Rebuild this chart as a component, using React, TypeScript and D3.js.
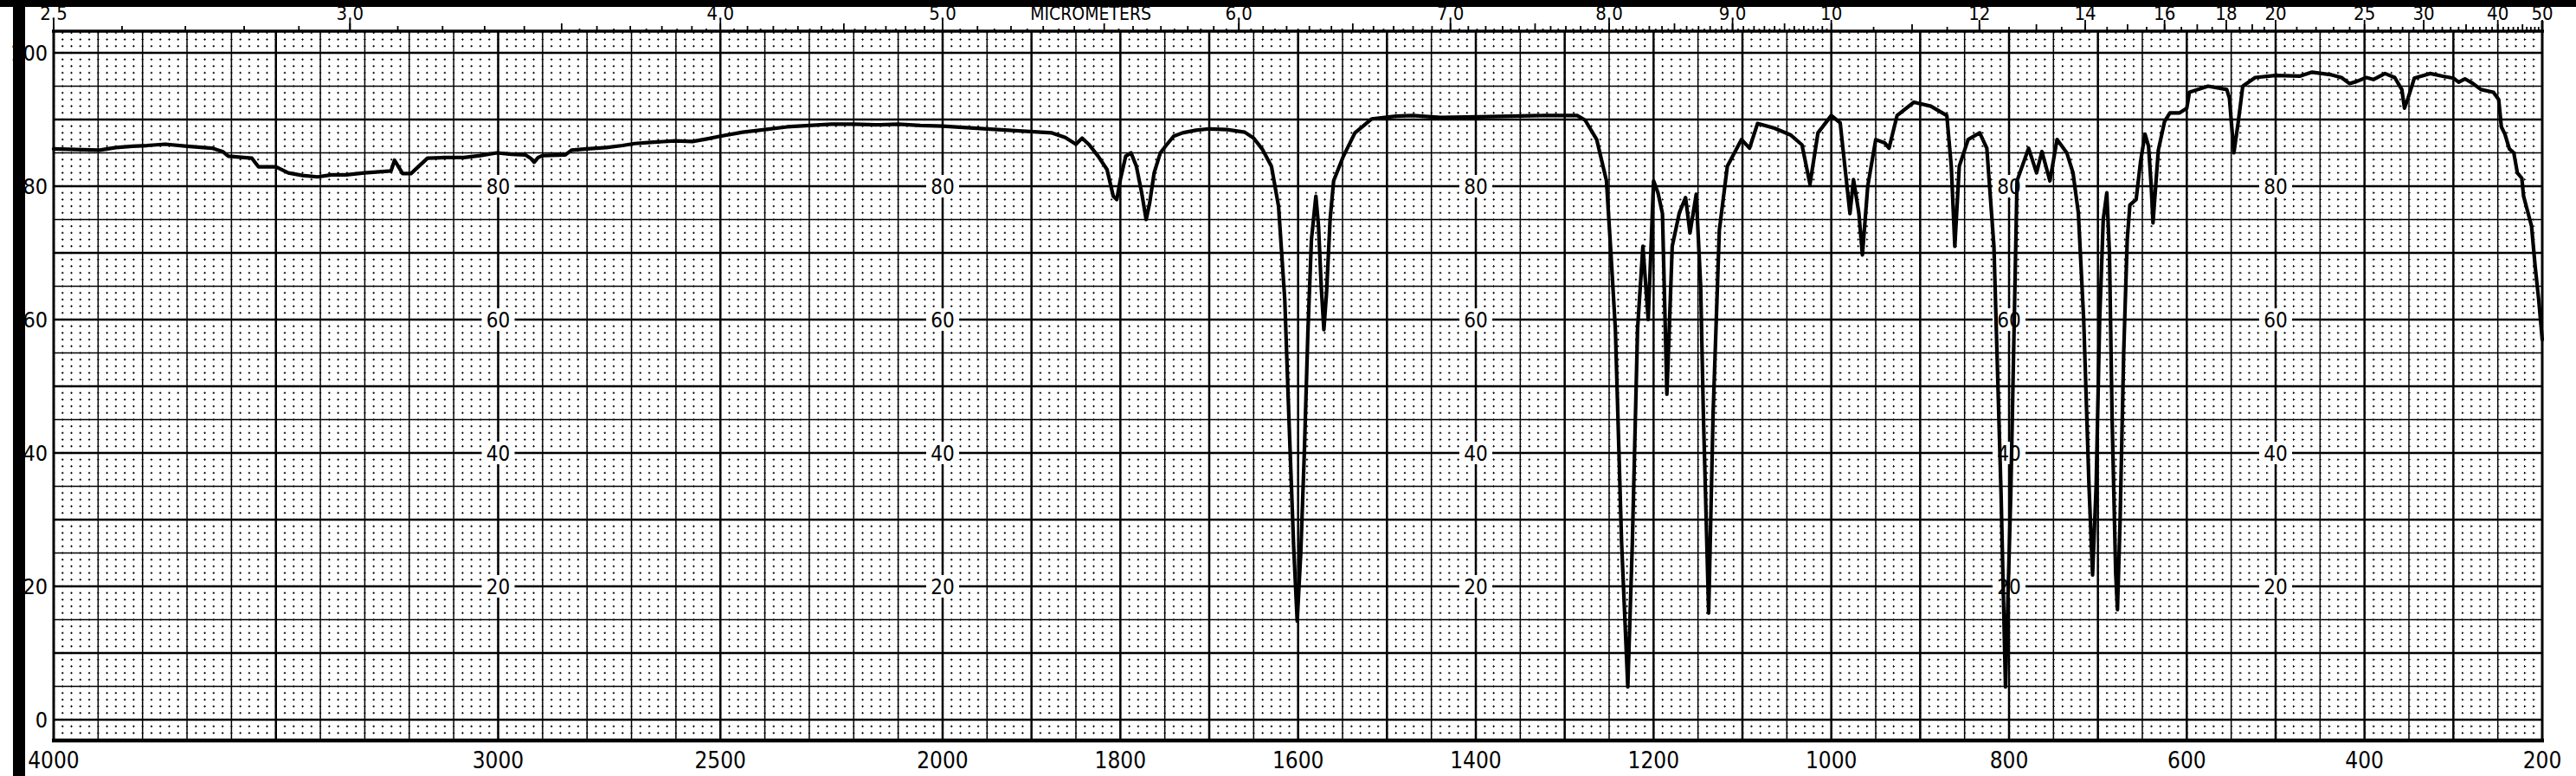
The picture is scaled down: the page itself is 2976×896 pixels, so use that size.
import React from "react";
import * as d3 from "d3";

// ---- data (wavenumber cm-1, % transmittance) ----
const wavenumbers = [
  4000, 3950, 3897, 3860, 3823, 3790, 3749, 3700, 3644, 3620, 3607, 3554, 3539, 3500, 3472, 3440, 3406, 3375, 3342, 3301,
  3241, 3233, 3215, 3196, 3159, 3120, 3077, 3040, 3003, 2970, 2939, 2927, 2919, 2910, 2900, 2849, 2835, 2800, 2757, 2720,
  2693, 2650, 2602, 2563, 2530, 2500, 2450, 2400, 2350, 2300, 2250, 2200, 2150, 2100, 2050, 2000, 1950, 1914, 1877, 1862,
  1850, 1843, 1835, 1825, 1815, 1808, 1804, 1800, 1794, 1788, 1782, 1776, 1771, 1767, 1762, 1755, 1748, 1740, 1730, 1715,
  1700, 1680, 1660, 1650, 1640, 1630, 1622, 1615, 1610, 1605, 1601, 1597, 1593, 1589, 1585, 1580, 1577, 1574, 1571, 1568,
  1564, 1560, 1549, 1536, 1517, 1490, 1471, 1440, 1397, 1360, 1323, 1286, 1277, 1264, 1253, 1248, 1243, 1236, 1229, 1224,
  1218, 1212, 1206, 1200, 1195, 1190, 1185, 1179, 1171, 1164, 1159, 1152, 1147, 1144, 1138, 1133, 1126, 1117, 1101, 1092,
  1083, 1064, 1046, 1033, 1024, 1015, 1000, 990, 983, 979, 975, 969, 965, 959, 950, 940, 935, 926, 907, 888,
  870, 865, 861, 856, 846, 833, 825, 817, 809, 804, 798, 791, 778, 769, 763, 754, 746, 735, 728, 722,
  716, 710, 706, 702, 698, 694, 690, 687, 684, 680, 678, 675, 671, 667, 664, 657, 652, 647, 643, 640,
  638, 635, 632, 625, 619, 608, 600, 597, 576, 555, 552, 547, 542, 537, 523, 500, 473, 459, 437, 426,
  417, 409, 398, 390, 377, 366, 358, 355, 351, 344, 326, 312, 300, 294, 287, 278, 269, 255, 249, 246,
  242, 237, 232, 228, 223, 221, 216, 212, 208, 204, 200,
];
const transmittance = [
  85.6, 85.5, 85.4, 85.8, 86.0, 86.1, 86.3, 86.0, 85.7, 85.2, 84.5, 84.2, 82.9, 82.9, 82.0, 81.6, 81.4, 81.7, 81.7, 82.0,
  82.3, 83.9, 81.9, 81.9, 84.2, 84.3, 84.3, 84.6, 85.0, 84.8, 84.7, 84.2, 83.6, 84.3, 84.6, 84.7, 85.4, 85.6, 85.8, 86.1,
  86.4, 86.6, 86.8, 86.7, 87.1, 87.5, 88.1, 88.5, 88.9, 89.1, 89.3, 89.3, 89.2, 89.3, 89.1, 89.0, 88.6, 88.3, 88.0, 87.3,
  86.3, 87.2, 86.2, 84.5, 82.5, 78.5, 78.0, 81.0, 84.5, 85.0, 83.0, 79.0, 75.0, 77.5, 82.0, 85.0, 86.2, 87.5, 88.0, 88.4,
  88.6, 88.5, 88.1, 87.2, 85.5, 83.0, 77.0, 63.0, 44.0, 26.0, 14.8, 25.0, 40.0, 58.0, 72.0, 78.5, 74.0, 65.0, 58.5, 64.0,
  75.0, 80.8, 84.5, 88.0, 90.1, 90.5, 90.6, 90.3, 90.4, 90.5, 90.6, 90.6, 89.9, 87.0, 80.8, 70.0, 58.6, 26.6, 4.9, 26.0,
  58.6, 71.0, 60.0, 80.8, 79.0, 75.9, 48.8, 71.0, 76.0, 78.3, 73.0, 78.8, 65.0, 46.0, 16.0, 46.0, 73.4, 83.0, 87.0, 85.7,
  89.4, 88.7, 87.7, 86.2, 80.3, 88.0, 90.6, 89.5, 80.8, 75.9, 81.0, 76.0, 69.7, 80.0, 87.0, 86.5, 85.7, 90.6, 92.6, 92.0,
  90.6, 83.0, 71.0, 83.0, 87.0, 88.0, 85.7, 71.0, 34.0, 4.9, 34.0, 80.8, 85.7, 82.0, 85.2, 80.8, 87.0, 85.0, 82.0, 76.0,
  60.0, 35.0, 21.7, 35.0, 60.0, 75.0, 79.0, 70.0, 45.0, 22.0, 16.5, 30.0, 55.0, 72.0, 77.2, 78.0, 83.7, 87.8, 86.0, 80.0,
  74.5, 80.0, 85.4, 89.7, 91.0, 91.0, 91.7, 94.1, 95.0, 94.5, 93.2, 85.0, 89.7, 95.0, 96.3, 96.6, 96.5, 97.1, 96.7, 96.3,
  95.4, 95.7, 96.3, 96.0, 96.9, 96.3, 94.5, 91.7, 93.2, 96.2, 96.9, 96.5, 96.2, 95.6, 96.1, 95.4, 94.5, 94.1, 93.0, 88.9,
  87.8, 85.6, 85.0, 82.0, 81.2, 78.5, 76.0, 74.0, 68.0, 63.0, 57.0,
];

// ---- tick labels ----
const wavenumberTickLabels = [4000, 3000, 2500, 2000, 1800, 1600, 1400, 1200, 1000, 800, 600, 400, 200];
const micrometerTickLabels = ["2.5", "3.0", "4.0", "5.0", "6.0", "7.0", "8.0", "9.0", "10", "12", "14", "16", "18", "20", "25", "30", "40", "50"];
const percentTickLabels = [0, 20, 40, 60, 80, 100];
const innerLabelWavenumbers = [3000, 2000, 1400, 800, 500];
const innerLabelPercents = [20, 40, 60, 80];

const W = 2976;
const H = 896;
const LEFT = 62;
const RIGHT = 2937;
const TOP = 36;
const BOTTOM = 855;
const FONT = "'DejaVu Sans Condensed', 'DejaVu Sans', sans-serif";

export default function App() {
  const x = d3.scaleLinear().domain([4000, 2000, 200]).range([LEFT, 1089, RIGHT]);
  const y = d3.scaleLinear().domain([0, 100]).range([831, 61]);

  const pts: [number, number][] = wavenumbers.map((w, i) => [w, transmittance[i]]);
  const line = d3
    .line<[number, number]>()
    .x((d) => x(d[0]))
    .y((d) => y(d[1]));

  // grid
  const hMinor: number[] = [];
  const hMajor: number[] = [];
  for (let v = -3; v <= 103; v++) {
    if (v % 5 === 0 && v >= 0 && v <= 100) hMajor.push(v);
    else hMinor.push(v);
  }
  const vMinor: number[] = [];
  const vMajor: { w: number; thick: boolean }[] = [];
  for (let w = 3980; w > 2000; w -= 20) {
    if (w % 100 === 0) vMajor.push({ w, thick: w % 500 === 0 });
    else vMinor.push(w);
  }
  vMajor.push({ w: 2000, thick: true });
  for (let w = 1990; w > 200; w -= 10) {
    if (w % 50 === 0) vMajor.push({ w, thick: w % 100 === 0 });
    else vMinor.push(w);
  }

  // micrometer ticks
  const topTicks: { px: number; len: number }[] = [];
  const addTick = (um: number, len: number) => {
    const wn = 10000 / um;
    if (wn <= 4000.5 && wn >= 199.5) topTicks.push({ px: x(wn), len });
  };
  for (let i = 250; i <= 1000; i += 5) {
    const um = i / 100;
    if (i % 10 === 0) addTick(um, i % 50 === 0 ? 9 : 6);
    else if (i >= 350) addTick(um, 3);
  }
  for (let i = 105; i <= 200; i += 5) addTick(i / 10, i % 10 === 0 ? 8 : 5);
  for (let um = 21; um <= 50; um++) addTick(um, um % 5 === 0 ? 8 : 5);
  micrometerTickLabels.forEach((s) => addTick(parseFloat(s), 13));

  const yTop = y(103) - 1.25;

  return (
    <div>
      <style>{"body{margin:0;background:#fff}"}</style>
      <svg width={W} height={H} style={{ display: "block", background: "#fff" }}>
        {/* minor horizontal dotted lines */}
        <g stroke="#000" strokeWidth={1} strokeDasharray="2.4 7.87" strokeDashoffset={1.2}>
          {hMinor.map((v) => (
            <line key={"hm" + v} x1={LEFT} x2={RIGHT} y1={y(v)} y2={y(v)} />
          ))}
        </g>
        {/* minor vertical dotted lines */}
        <g stroke="#000" strokeWidth={1} strokeDasharray="2.4 5.3">
          {vMinor.map((w) => (
            <line key={"vm" + w} x1={x(w)} x2={x(w)} y1={yTop} y2={BOTTOM} />
          ))}
        </g>
        {/* major horizontal */}
        <g stroke="#000">
          {hMajor.map((v) => (
            <line key={"hM" + v} x1={LEFT} x2={RIGHT} y1={y(v)} y2={y(v)} strokeWidth={v % 10 === 0 ? 2.4 : 1.5} />
          ))}
        </g>
        {/* major vertical */}
        <g stroke="#000">
          {vMajor.map((d) => (
            <line key={"vM" + d.w} x1={x(d.w)} x2={x(d.w)} y1={TOP} y2={BOTTOM} strokeWidth={d.thick ? 2.5 : 1.5} />
          ))}
        </g>

        {/* interior labels */}
        {innerLabelWavenumbers.map((w) =>
          innerLabelPercents.map((p) => (
            <g key={"il" + w + "-" + p}>
              <rect x={x(w) - 19} y={y(p) - 13} width={38} height={26} fill="#fff" />
              <text x={x(w)} y={y(p) + 8.5} fontSize={24} fontFamily={FONT} textAnchor="middle" fill="#000">
                {p}
              </text>
            </g>
          ))
        )}

        {/* spectrum */}
        <path d={line(pts) || ""} fill="none" stroke="#000" strokeWidth={4.2} strokeLinejoin="round" strokeLinecap="round" />

        {/* frame */}
        <g stroke="#000" fill="none">
          <line x1={LEFT - 2} x2={RIGHT + 2} y1={TOP} y2={TOP} strokeWidth={3.5} />
          <line x1={LEFT - 2} x2={RIGHT + 2} y1={BOTTOM} y2={BOTTOM} strokeWidth={4.5} />
          <line x1={LEFT} x2={LEFT} y1={TOP} y2={BOTTOM} strokeWidth={3} />
          <line x1={RIGHT} x2={RIGHT} y1={TOP - 12} y2={BOTTOM} strokeWidth={3} />
        </g>

        {/* top micrometer ticks */}
        <g stroke="#000" strokeWidth={1.8}>
          {topTicks.map((t, i) => (
            <line key={"tt" + i} x1={t.px} x2={t.px} y1={TOP} y2={TOP - t.len} />
          ))}
        </g>
        {micrometerTickLabels.map((s) => (
          <text key={"um" + s} x={x(10000 / parseFloat(s))} y={23} fontSize={22} fontFamily={FONT} textAnchor="middle" fill="#000">
            {s}
          </text>
        ))}
        <text x={(x(2000) + x(10000 / 6)) / 2} y={23} fontSize={21} fontFamily={FONT} textAnchor="middle" fill="#000">
          MICROMETERS
        </text>

        {/* bottom wavenumber labels */}
        {wavenumberTickLabels.map((w) => (
          <text key={"wn" + w} x={x(w)} y={887} fontSize={26} fontFamily={FONT} textAnchor="middle" fill="#000">
            {w}
          </text>
        ))}

        {/* left percent labels */}
        {percentTickLabels.map((p) => (
          <text key={"pc" + p} x={55} y={y(p) + 9} fontSize={25} fontFamily={FONT} textAnchor="end" fill="#000">
            {p}
          </text>
        ))}

        {/* black scan edges */}
        <rect x={0} y={0} width={W} height={8} fill="#000" />
        <rect x={15} y={0} width={14} height={H} fill="#000" />
      </svg>
    </div>
  );
}
